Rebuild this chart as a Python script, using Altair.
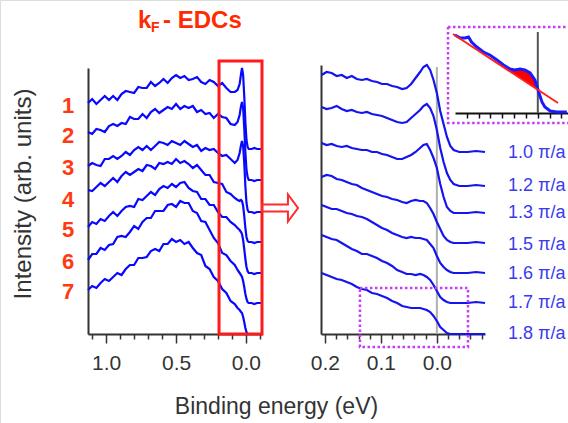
import altair as alt
import pandas as pd

FONT = "Liberation Sans"

# ---------------- data: left panel (wide-range EDCs) ----------------
left_E = [1.13, 1.10, 1.07, 1.04, 1.01, 0.98, 0.95, 0.92, 0.89, 0.86, 0.83, 0.80, 0.77, 0.74, 0.71,
          0.68, 0.65, 0.62, 0.59, 0.56, 0.53, 0.50, 0.47, 0.44, 0.41, 0.38, 0.35, 0.32, 0.29, 0.26,
          0.23, 0.20, 0.17, 0.14, 0.11, 0.08, 0.06, 0.045, 0.035, 0.028, 0.02, 0.012, 0.004, -0.004,
          -0.012, -0.02, -0.04, -0.06, -0.08, -0.10, -0.115]
left_1 = [231, 235, 230, 234, 238, 234, 238, 234, 240, 243, 242, 241, 247, 246, 246, 252, 248, 251, 255, 251,
          256, 259, 256, 258, 254, 255, 257, 252, 250, 254, 252, 248, 251, 246, 242, 242,
          244, 250, 260, 266, 259, 238, 212, 194, 187, 185, 185, 186, 185, 185, 185]
left_2 = [202, 200, 205, 204, 202, 208, 210, 208, 211, 210, 217, 215, 215, 220, 216, 222, 225, 221, 224, 227,
          225, 230, 225, 228, 226, 228, 222, 224, 220, 221, 216, 220, 217, 216, 210, 209,
          212, 219, 228, 232, 226, 206, 182, 164, 157, 154, 154, 153, 154, 154, 154]
left_3 = [168, 171, 169, 168, 175, 175, 178, 175, 178, 182, 179, 184, 187, 184, 188, 184, 188, 192, 191, 189,
          193, 191, 189, 193, 190, 187, 189, 183, 186, 184, 185, 181, 178, 179, 175, 171,
          174, 181, 189, 193, 188, 171, 148, 131, 124, 122, 122, 121, 122, 122, 122]
left_4 = [144, 143, 147, 151, 148, 152, 156, 152, 158, 162, 159, 162, 165, 163, 169, 168, 165, 171, 170, 172,
          170, 175, 171, 173, 170, 166, 169, 164, 159, 159, 152, 151, 150, 142, 140, 136,
          134, 133, 134, 133, 128, 118, 106, 97, 93, 92, 92, 91, 92, 92, 92]
left_5 = [107, 112, 110, 115, 113, 118, 122, 118, 123, 127, 128, 127, 135, 134, 138, 142, 139, 145, 148, 146,
          150, 147, 151, 152, 146, 143, 142, 135, 135, 129, 129, 122, 117, 117, 112, 109,
          106, 104, 102, 100, 94, 85, 75, 67, 63, 61, 61, 60, 61, 61, 61]
left_6 = [74, 80, 80, 86, 84, 89, 90, 97, 98, 97, 102, 108, 105, 112, 116, 116, 123, 123, 123, 129,
          130, 127, 133, 131, 131, 123, 121, 113, 112, 104, 96, 91, 81, 79, 73, 69,
          64, 61, 59, 57, 53, 47, 40, 35, 32, 31, 31, 30, 31, 31, 31]
left_7 = [44, 48, 46, 51, 55, 53, 57, 61, 59, 65, 69, 69, 76, 76, 77, 83, 85, 83, 90, 90,
          95, 92, 94, 90, 92, 86, 81, 79, 68, 65, 57, 53, 45, 41, 33, 30,
          26, 24, 22, 21, 17, 12, 6, 2, 0, None, None, None, None, None, None]
left_curves = [left_1, left_2, left_3, left_4, left_5, left_6, left_7]
left_labels = ["1", "2", "3", "4", "5", "6", "7"]
left_label_I = [228, 198, 166, 134, 104, 72, 42]
left_ticks = [1.1, 1.0, 0.9, 0.8, 0.7, 0.6, 0.5, 0.4, 0.3, 0.2, 0.1, 0.0, -0.1]

# ---------------- data: right panel (near E_F) ----------------
right_E = [0.206, 0.197, 0.188, 0.179, 0.170, 0.161, 0.152, 0.143, 0.134, 0.125, 0.116, 0.107, 0.098,
           0.089, 0.080, 0.071, 0.062, 0.054, 0.046, 0.038, 0.030, 0.024, 0.018, 0.012, 0.006, 0.000,
           -0.006, -0.012, -0.018, -0.024, -0.030, -0.040, -0.055, -0.070, -0.086]
right_1 = [259, 262, 261, 258, 259, 256, 258, 255, 254, 255, 253, 252, 250, 250, 248, 247, 245, 246,
           250, 256, 262, 267, 269, 264, 254, 241, 223, 210, 197, 188, 184, 182, 182, 183, 182]
right_2 = [227, 225, 226, 228, 225, 223, 224, 222, 221, 222, 220, 219, 218, 216, 214, 212, 211, 212,
           216, 220, 224, 228, 230, 226, 218, 204, 186, 172, 161, 154, 150, 148, 148, 149, 148]
right_3 = [191, 189, 190, 188, 187, 188, 186, 185, 184, 184, 182, 182, 180, 179, 177, 175, 175, 177,
           179, 182, 186, 189, 190, 184, 176, 166, 150, 137, 127, 123, 121, 121, 121, 122, 121]
right_4 = [157, 159, 158, 155, 154, 152, 150, 149, 146, 144, 142, 140, 138, 137, 135, 134, 132, 131,
           133, 134, 133, 133, 131, 126, 120, 112, 105, 98, 94, 92, 91, 91, 91, 92, 91]
right_5 = [129, 127, 125, 125, 123, 121, 120, 118, 117, 115, 112, 109, 106, 104, 101, 99, 97, 96,
           97, 96, 96, 95, 94, 90, 86, 78, 71, 67, 64, 62, 61, 61, 61, 62, 61]
right_6 = [99, 97, 95, 94, 91, 88, 85, 83, 80, 80, 78, 76, 73, 71, 68, 64, 62, 60,
           60, 59, 60, 59, 57, 54, 49, 43, 37, 34, 32, 31, 31, 31, 31, 32, 31]
right_7 = [61, 59, 57, 55, 54, 52, 50, 47, 45, 44, 41, 40, 38, 36, 33, 31, 28, 27,
           26, 26, 26, 25, 24, 22, 18, 13, 7, 4, 1, 0, 0, 0, 0, 0, 0]
right_curves = [right_1, right_2, right_3, right_4, right_5, right_6, right_7]
right_labels = ["1.0 \u03c0/a", "1.2 \u03c0/a", "1.3 \u03c0/a", "1.5 \u03c0/a",
                "1.6 \u03c0/a", "1.7 \u03c0/a", "1.8 \u03c0/a"]
right_label_I = [181, 148, 121, 89, 60, 31, 0]
right_ticks = [0.2, 0.18, 0.16, 0.14, 0.12, 0.1, 0.08, 0.06, 0.04, 0.02, 0.0, -0.02, -0.04, -0.06, -0.08]

# ---------------- data: inset (zoom of 1.8 pi/a near E_F) ----------------
inset_E = [0.140, 0.131, 0.123, 0.117, 0.112, 0.103, 0.092, 0.081, 0.069, 0.058, 0.047, 0.039,
           0.030, 0.022, 0.013, 0.005, 0.001, -0.002, -0.007, -0.012, -0.021, -0.032, -0.049]
inset_I = [78, 75, 75, 76, 71, 66, 61, 58, 53, 48, 44, 43, 44, 43, 40, 33, 26, 20, 11, 6, 2, 1, 1]
fit_E = [0.1433, -0.0341]
fit_I = [79, 10]
fill_E = [0.050, 0.047, 0.039, 0.030, 0.022, 0.013, 0.005, 0.0]
fill_top = [43, 44, 43, 44, 43, 40, 33, 23.5]
fill_base = [42.7, 41.5, 38.4, 34.9, 31.8, 28.3, 25.2, 23.5]
inset_ticks = [0.12, 0.10, 0.08, 0.06, 0.04, 0.02, 0.0, -0.02, -0.04]

# ---------------- frames ----------------
left_df = pd.DataFrame([
    {"E": e, "I": v, "curve": lab}
    for lab, vals in zip(left_labels, left_curves)
    for e, v in zip(left_E, vals) if v is not None
])
right_df = pd.DataFrame([
    {"E": e, "I": v, "curve": lab}
    for lab, vals in zip(right_labels, right_curves)
    for e, v in zip(right_E, vals)
])
left_lab_df = pd.DataFrame({"E": [1.273] * 7, "I": left_label_I, "t": left_labels})
right_lab_df = pd.DataFrame({"E": [-0.127] * 7, "I": right_label_I, "t": right_labels})
inset_df = pd.DataFrame({"E": inset_E, "I": inset_I})
fit_df = pd.DataFrame({"E": fit_E, "I": fit_I})
fill_df = pd.DataFrame({"E": fill_E, "top": fill_top, "base": fill_base})

# ---------------- scales & axes ----------------
LX = alt.Scale(domain=[1.13, -0.115], range=[88, 262], nice=False, zero=False)
LY = alt.Scale(domain=[0, 266], range=[334, 68], nice=False, zero=False)
RX = alt.Scale(domain=[0.207, -0.086], range=[321, 485], nice=False, zero=False)
RY = alt.Scale(domain=[0, 269], range=[334, 65], nice=False, zero=False)
IX = alt.Scale(domain=[0.1399, -0.051], range=[455, 568], nice=False, zero=False)
IY = alt.Scale(domain=[0, 100], range=[113, 13], nice=False, zero=False)


def x_axis(values, test):
    return alt.Axis(
        orient="bottom", offset=-89, values=values, title=None, grid=False,
        domainColor="#333333", domainWidth=2, tickColor="#333333", tickWidth=1.5,
        tickSize={"condition": {"test": test, "value": 9}, "value": 5},
        labelExpr=f"({test}) ? format(datum.value, '.1f') : ''",
        labelFont=FONT, labelFontSize=21, labelColor="#333333", labelPadding=9,
        labelFlush=False, labelOverlap=False,
    )


LXA = x_axis(left_ticks, "abs(datum.value*2 - round(datum.value*2)) < 0.001")
RXA = x_axis(right_ticks, "abs(datum.value*10 - round(datum.value*10)) < 0.001")
LYA = alt.Axis(orient="left", offset=-88, ticks=False, labels=False, title=None, grid=False,
               domainColor="#333333", domainWidth=2)
RYA = alt.Axis(orient="left", offset=-321, ticks=False, labels=False, title=None, grid=False,
               domainColor="#333333", domainWidth=2)
IXA = alt.Axis(orient="bottom", offset=-310, values=inset_ticks, title=None, grid=False, labels=False,
               domainColor="#111111", domainWidth=2, tickColor="#111111", tickWidth=1.5, tickSize=5)


def lx(f="E"):
    return alt.X(f, type="quantitative", scale=LX, axis=LXA)


def ly(f="I"):
    return alt.Y(f, type="quantitative", scale=LY, axis=LYA)


def rx(f="E"):
    return alt.X(f, type="quantitative", scale=RX, axis=RXA)


def ry(f="I"):
    return alt.Y(f, type="quantitative", scale=RY, axis=RYA)


def ix(f="E"):
    return alt.X(f, type="quantitative", scale=IX, axis=IXA)


def iy(f="I"):
    return alt.Y(f, type="quantitative", scale=IY, axis=None)


# ---------------- left panel ----------------
left_lines = alt.Chart(left_df).mark_line(color="#0808ff", strokeWidth=2.2).encode(
    x=lx(), y=ly(), detail="curve:N")
left_nums = alt.Chart(left_lab_df).mark_text(
    font=FONT, fontSize=22, fontWeight="bold", color="#ff3a10", align="center", baseline="middle"
).encode(x=lx(), y=ly(), text="t:N")
box_df = pd.DataFrame({"E": [0.1925], "E2": [-0.115], "I": [273], "I2": [0]})
red_box = alt.Chart(box_df).mark_rect(filled=False, stroke="#ff1a1a", strokeWidth=3).encode(
    x=lx(), x2=alt.X2("E2"), y=ly(), y2=alt.Y2("I2"))
arrow_df = pd.DataFrame({"E": [-0.244], "I": [126]})
arrow = alt.Chart(arrow_df).mark_point(
    shape="M -1 -0.19 L 0.44 -0.19 L 0.44 -0.75 L 1 0 L 0.44 0.75 L 0.44 0.19 L -1 0.19 Z",
    size=1296, filled=False, color="#ff2a2a", strokeWidth=2, opacity=1
).encode(x=lx(), y=ly())

ann_df = pd.DataFrame({
    "E": [0.772, 0.679, 0.593],
    "I": [306, 302, 306],
    "t": ["k", "F", "- EDCs"],
    "s": [24, 14, 24],
})
title_txt = alt.Chart(ann_df).mark_text(
    font=FONT, fontWeight="bold", color="#ff2a00", align="left", baseline="alphabetic"
).encode(x=lx(), y=ly(), text="t:N", size=alt.Size("s:Q", scale=None, legend=None))

ytitle_df = pd.DataFrame({"E": [1.588], "I": [140], "t": ["Intensity (arb. units)"]})
ytitle = alt.Chart(ytitle_df).mark_text(
    font=FONT, fontSize=24, color="#333333", angle=270, align="center", baseline="middle"
).encode(x=lx(), y=ly(), text="t:N")
xtitle_df = pd.DataFrame({"E": [-0.2187], "I": [-73], "t": ["Binding energy (eV)"]})
xtitle = alt.Chart(xtitle_df).mark_text(
    font=FONT, fontSize=23, color="#333333", align="center", baseline="middle"
).encode(x=lx(), y=ly(), text="t:N")

left = alt.layer(left_lines, red_box, left_nums, arrow, title_txt, ytitle, xtitle)

# ---------------- right panel ----------------
ef_df = pd.DataFrame({"E": [0.0], "I": [0], "I2": [267]})
ef_line = alt.Chart(ef_df).mark_rule(color="#b0b0b0", strokeWidth=2).encode(
    x=rx(), y=ry(), y2=alt.Y2("I2"))
right_lines = alt.Chart(right_df).mark_line(color="#1414f0", strokeWidth=2.2).encode(
    x=rx(), y=ry(), detail="curve:N")
right_txt = alt.Chart(right_lab_df).mark_text(
    font=FONT, fontSize=18, color="#3a3af0", align="left", baseline="middle"
).encode(x=rx(), y=ry(), text="t:N")
dbox_df = pd.DataFrame({"E": [0.1374], "E2": [-0.0556], "I": [46], "I2": [-13]})
dot_box = alt.Chart(dbox_df).mark_rect(
    filled=False, stroke="#c83cf5", strokeWidth=2.5, strokeDash=[2.5, 2.5]
).encode(x=rx(), x2=alt.X2("E2"), y=ry(), y2=alt.Y2("I2"))

right = alt.layer(ef_line, right_lines, dot_box, right_txt)

# ---------------- inset ----------------
ibox_df = pd.DataFrame({"E": [0.1517], "E2": [-0.06], "I": [86], "I2": [-10]})
inset_box = alt.Chart(ibox_df).mark_rect(
    filled=False, stroke="#c83cf5", strokeWidth=2.5, strokeDash=[2.5, 2.5]
).encode(x=ix(), x2=alt.X2("E2"), y=iy(), y2=alt.Y2("I2"))
iv_df = pd.DataFrame({"E": [0.0], "I": [0], "I2": [81]})
inset_vline = alt.Chart(iv_df).mark_rule(color="#555555", strokeWidth=2).encode(
    x=ix(), y=iy(), y2=alt.Y2("I2"))
inset_fill = alt.Chart(fill_df).mark_area(color="#ff0000", opacity=1).encode(
    x=ix(), y=iy("top"), y2=alt.Y2("base"))
inset_line = alt.Chart(inset_df).mark_line(color="#1a1aff", strokeWidth=3).encode(x=ix(), y=iy())
fit_line = alt.Chart(fit_df).mark_line(color="#ff2020", strokeWidth=2).encode(x=ix(), y=iy())

inset = alt.layer(inset_box, inset_vline, inset_fill, inset_line, fit_line)

chart = alt.layer(left, right, inset).resolve_scale(
    x="independent", y="independent"
).properties(
    width=568, height=423, padding=0,
    autosize=alt.AutoSizeParams(type="none"),
).configure_view(stroke=None).configure(background="white")

chart.save("out.html", embed_options={"renderer": "svg", "actions": False})
